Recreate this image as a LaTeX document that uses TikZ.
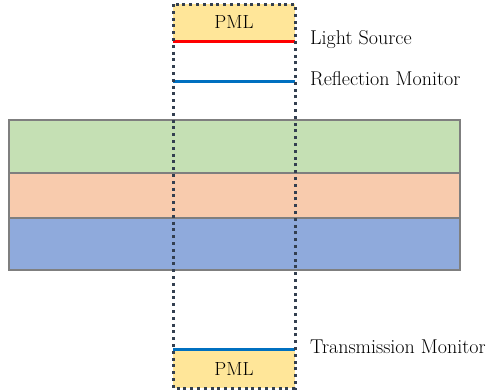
\documentclass[tikz,border=0pt]{standalone}
\definecolor{pmlfill}{HTML}{FFE699}
\definecolor{layA}{HTML}{C5E0B4}
\definecolor{layB}{HTML}{F8CBAD}
\definecolor{layC}{HTML}{8FAADC}
\definecolor{edgegray}{HTML}{7F7F7F}
\definecolor{dotnavy}{HTML}{333F50}
\definecolor{monblue}{HTML}{0070C0}
\begin{document}
\begin{tikzpicture}[x=1pt,y=-1pt,
  layer/.style={draw=edgegray,line width=1.6pt},
  pml/.style={fill=pmlfill},
  mon/.style={line width=3pt},
  lbl/.style={anchor=west,inner sep=0pt,font=\fontsize{20}{22}\selectfont},
  pmltext/.style={inner sep=0pt,font=\fontsize{19}{22}\selectfont},
  simbox/.style={draw=dotnavy,line width=3pt,dash pattern=on 3pt off 3.8pt}]
\useasboundingbox (0,0) rectangle (492,391);
% PML regions
\fill[pml] (173,4) rectangle (295,41);
\fill[pml] (173,349) rectangle (295,388);
\node[pmltext] (pmltop) at (234,22) {PML};
\node[pmltext] (pmlbot) at (234,369) {PML};
% layers
\draw[layer,fill=layA] (9,120) rectangle (460,173);
\draw[layer,fill=layB] (9,173) rectangle (460,218);
\draw[layer,fill=layC] (9,218) rectangle (460,270);
% monitors and source
\draw[mon,red] (173,41) -- (295,41);
\draw[mon,monblue] (173,81) -- (295,81);
\draw[mon,monblue] (173,349) -- (295,349);
% simulation box
\draw[simbox] (173,4) rectangle (295,388);
% labels
\node[lbl] (src) at (310,40) {Light Source};
\node[lbl] (refl) at (310,79) {Reflection Monitor};
\node[lbl] (trans) at (310,347) {Transmission Monitor};
\end{tikzpicture}
\end{document}
